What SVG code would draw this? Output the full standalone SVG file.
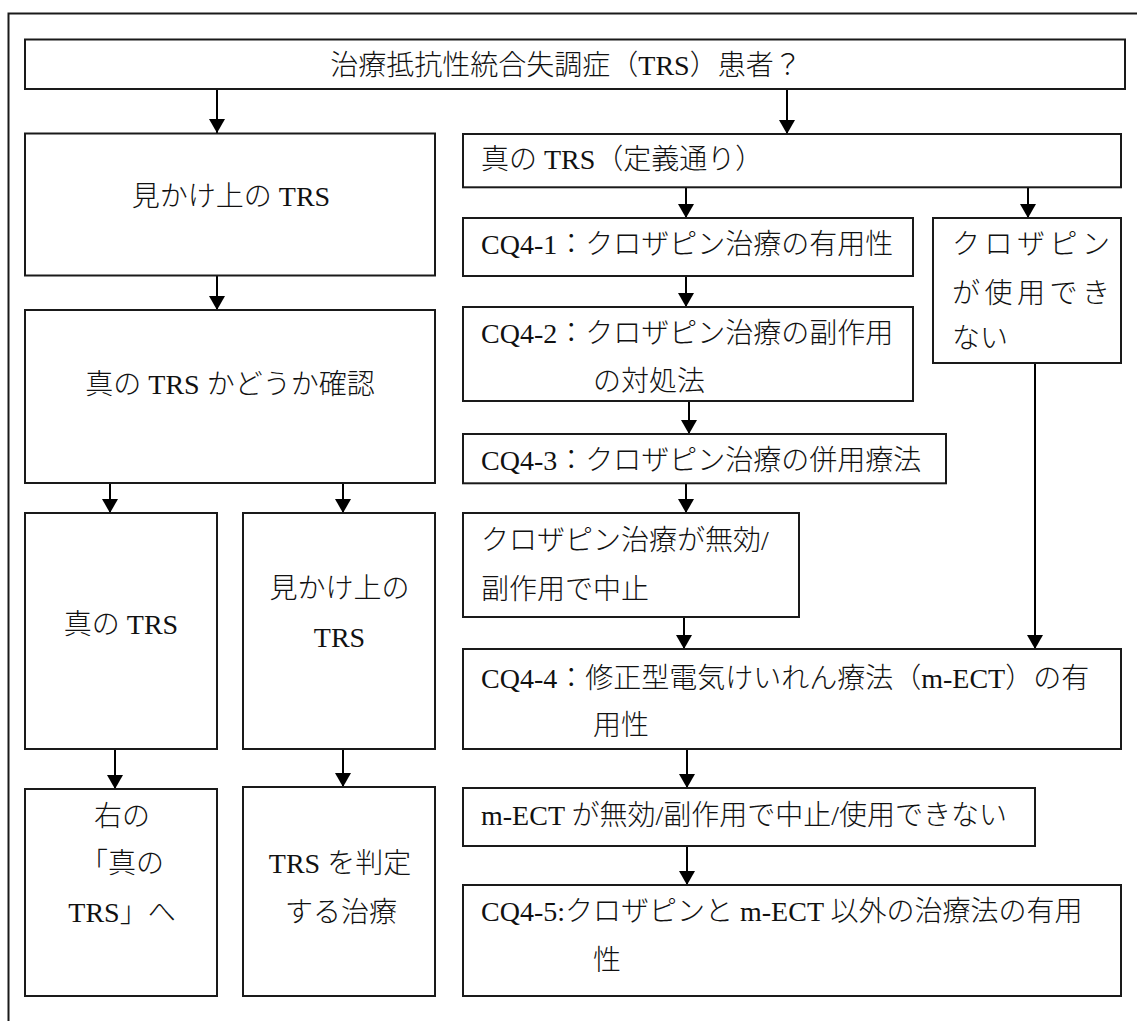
<svg xmlns="http://www.w3.org/2000/svg" width="1137" height="1021" viewBox="0 0 1137 1021">
<defs>
<style>
.box{fill:#fff;stroke:#1a1a1a;stroke-width:2}
.frame{fill:none;stroke:#1a1a1a;stroke-width:2}
.con{fill:none;stroke:#000;stroke-width:2}
text{font-family:'Liberation Serif','Noto Sans CJK JP',serif;font-size:28px;font-weight:300;fill:#111}
.c{text-anchor:middle}
</style>
<marker id="ah" markerUnits="userSpaceOnUse" markerWidth="16" markerHeight="16" viewBox="0 0 14 16" refX="14" refY="8" orient="auto">
<path d="M0,0 L14,8 L0,16 z" fill="#000"/>
</marker>
</defs>
<rect width="1137" height="1021" fill="#fff"/>
<path class="frame" d="M8.5,1021 V13.5 H1137"/>

<g id="connectors">
<line class="con" x1="217" y1="89" x2="217" y2="133" marker-end="url(#ah)"/>
<line class="con" x1="787" y1="89" x2="787" y2="134" marker-end="url(#ah)"/>
<line class="con" x1="217" y1="276" x2="217" y2="310" marker-end="url(#ah)"/>
<line class="con" x1="110" y1="483" x2="110" y2="513" marker-end="url(#ah)"/>
<line class="con" x1="343" y1="483" x2="343" y2="513" marker-end="url(#ah)"/>
<line class="con" x1="115" y1="749" x2="115" y2="789" marker-end="url(#ah)"/>
<line class="con" x1="343" y1="749" x2="343" y2="787" marker-end="url(#ah)"/>
<line class="con" x1="686" y1="187" x2="686" y2="218" marker-end="url(#ah)"/>
<line class="con" x1="1028" y1="187" x2="1028" y2="218" marker-end="url(#ah)"/>
<line class="con" x1="686" y1="276" x2="686" y2="307" marker-end="url(#ah)"/>
<line class="con" x1="689" y1="401" x2="689" y2="434" marker-end="url(#ah)"/>
<line class="con" x1="686" y1="483" x2="686" y2="513" marker-end="url(#ah)"/>
<line class="con" x1="684" y1="617" x2="684" y2="649" marker-end="url(#ah)"/>
<line class="con" x1="1035" y1="363" x2="1035" y2="649" marker-end="url(#ah)"/>
<line class="con" x1="687" y1="749" x2="687" y2="788" marker-end="url(#ah)"/>
<line class="con" x1="687" y1="846" x2="687" y2="885" marker-end="url(#ah)"/>
</g>

<g id="n-top">
<rect class="box" x="25" y="39.5" width="1100" height="49.5"/>
<text class="c" x="566" y="75">治療抵抗性統合失調症（TRS）患者？</text>
</g>

<g id="n-apparent">
<rect class="box" x="25" y="133.5" width="410" height="142"/>
<text class="c" x="231" y="206">見かけ上の TRS</text>
</g>

<g id="n-check">
<rect class="box" x="25" y="310" width="410" height="173"/>
<text class="c" x="230" y="394">真の TRS かどうか確認</text>
</g>

<g id="n-true-left">
<rect class="box" x="25" y="513" width="192" height="236"/>
<text class="c" x="121" y="634">真の TRS</text>
</g>

<g id="n-apparent2">
<rect class="box" x="243" y="513" width="192" height="236"/>
<text class="c" x="339.5" y="598">見かけ上の</text>
<text class="c" x="339.5" y="647">TRS</text>
</g>

<g id="n-goright">
<rect class="box" x="25" y="789" width="192" height="207"/>
<text class="c" x="122" y="826">右の</text>
<text class="c" x="122" y="873">「真の</text>
<text class="c" x="122" y="922">TRS」へ</text>
</g>

<g id="n-judge">
<rect class="box" x="243" y="787" width="192" height="209"/>
<text class="c" x="340" y="873">TRS を判定</text>
<text class="c" x="341" y="922">する治療</text>
</g>

<g id="n-true">
<rect class="box" x="463" y="134" width="658" height="53.3"/>
<text x="481" y="169">真の TRS（定義通り）</text>
</g>

<g id="n-cq41">
<rect class="box" x="463" y="218" width="450" height="58"/>
<text x="481" y="254">CQ4-1：クロザピン治療の有用性</text>
</g>

<g id="n-noclz">
<rect class="box" x="933" y="218" width="188" height="145"/>
<text x="952" y="254" letter-spacing="4.5">クロザピン</text>
<text x="952" y="303" letter-spacing="4.5">が使用でき</text>
<text x="952" y="348">ない</text>
</g>

<g id="n-cq42">
<rect class="box" x="463" y="307" width="450" height="94"/>
<text x="481" y="343">CQ4-2：クロザピン治療の副作用</text>
<text x="593" y="391">の対処法</text>
</g>

<g id="n-cq43">
<rect class="box" x="463" y="434" width="483" height="49.3"/>
<text x="481" y="470">CQ4-3：クロザピン治療の併用療法</text>
</g>

<g id="n-clzfail">
<rect class="box" x="463" y="513" width="336" height="104"/>
<text x="481" y="550">クロザピン治療が無効/</text>
<text x="481" y="599">副作用で中止</text>
</g>

<g id="n-cq44">
<rect class="box" x="463" y="649" width="658" height="100"/>
<text x="481" y="688">CQ4-4：修正型電気けいれん療法（m-ECT）の有</text>
<text x="593" y="735">用性</text>
</g>

<g id="n-ectfail">
<rect class="box" x="463" y="788" width="572" height="58"/>
<text x="481" y="825">m-ECT が無効/副作用で中止/使用できない</text>
</g>

<g id="n-cq45">
<rect class="box" x="463" y="885" width="658" height="111"/>
<text x="481" y="921">CQ4-5:クロザピンと m-ECT 以外の治療法の有用</text>
<text x="593" y="970">性</text>
</g>
</svg>
